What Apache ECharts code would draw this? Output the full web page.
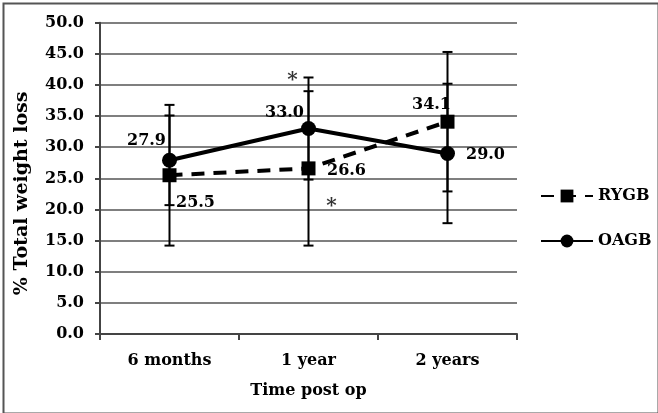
<!DOCTYPE html>
<html>
<head>
<meta charset="utf-8">
<script src="https://cdn.jsdelivr.net/npm/echarts@6/dist/echarts.min.js"></script>
<style>
  html, body { margin: 0; padding: 0; background: #fff; }
  #chart { width: 658px; height: 413px; }
</style>
</head>
<body>
<div id="chart"></div>
<script>
// 数据
const categories = ['6 months', '1 year', '2 years']
const rygb = [25.5, 26.6, 34.1]
const oagb = [27.9, 33.0, 29.0]
const rygbSd = [11.3, 12.4, 11.2]
const oagbSd = [7.2, 8.2, 11.2]
// 显著性标记 (category, y)
const notes = [['1 year', 41.2], ['1 year', 20.9]]

const FONT = '"DejaVu Serif", "Liberation Serif", serif'
const INK = '#000'

function errData(vals, sds) {
  return vals.map((v, i) => [i, v - sds[i], v + sds[i]])
}

function renderErr(params, api) {
  const x = api.value(0)
  const lo = api.coord([x, api.value(1)])
  const hi = api.coord([x, api.value(2)])
  const w = 5
  const style = { stroke: INK, lineWidth: 2 }
  return {
    type: 'group',
    children: [
      { type: 'line', shape: { x1: lo[0], y1: lo[1], x2: hi[0], y2: hi[1] }, style },
      { type: 'line', shape: { x1: lo[0] - w, y1: lo[1], x2: lo[0] + w, y2: lo[1] }, style },
      { type: 'line', shape: { x1: hi[0] - w, y1: hi[1], x2: hi[0] + w, y2: hi[1] }, style },
    ],
  }
}

const labelText = { fontFamily: FONT, fontWeight: 'bold', fontSize: 16, color: INK }

// 各点标签偏移
const rygbOffsets = [[26, 28], [38, 2], [-16, -17]]
const oagbOffsets = [[-23, -19], [-24, -16], [38, 1]]

function withLabels(vals, offsets) {
  return vals.map((v, i) => ({
    value: v,
    label: { show: true, position: 'inside', offset: offsets[i], formatter: v.toFixed(1), ...labelText },
  }))
}

const chart = echarts.init(document.getElementById('chart'), null, { renderer: 'canvas' })
chart.setOption({
  animation: false,
  backgroundColor: '#fff',
  grid: { left: 100, right: 141, top: 22.7, bottom: 79, containLabel: false },
  graphic: [{
    type: 'rect', left: 1, top: 1, z: 100,
    shape: { width: 655, height: 410 },
    style: { fill: 'none', stroke: '#555', lineWidth: 2 },
  }],
  legend: {
    orient: 'vertical', left: 535, top: 183,
    itemWidth: 52, itemHeight: 16, itemGap: 29,
    data: ['RYGB', 'OAGB'],
    textStyle: { ...labelText },
  },
  xAxis: {
    type: 'category', data: categories, boundaryGap: true,
    name: 'Time post op', nameLocation: 'middle', nameGap: 49,
    nameTextStyle: { ...labelText, fontSize: 16 },
    axisLine: { lineStyle: { color: '#444', width: 2 } },
    axisTick: { show: true, length: 6, lineStyle: { color: '#444', width: 2 } },
    axisLabel: { ...labelText, margin: 19 },
  },
  yAxis: {
    type: 'value', min: 0, max: 50, interval: 5,
    name: '% Total weight loss', nameLocation: 'middle', nameGap: 68,
    nameTextStyle: { ...labelText, fontSize: 19, padding: [0, 30, 0, 0] },
    axisLine: { show: true, lineStyle: { color: '#444', width: 2 } },
    axisTick: { show: true, length: 5, lineStyle: { color: '#444', width: 2 } },
    splitLine: { lineStyle: { color: '#555', width: 1.5 } },
    axisLabel: { ...labelText, margin: 16, formatter: v => v.toFixed(1) },
  },
  series: [
    {
      name: 'RYGB err', type: 'custom', renderItem: renderErr,
      data: errData(rygb, rygbSd), z: 3, silent: true,
    },
    {
      name: 'OAGB err', type: 'custom', renderItem: renderErr,
      data: errData(oagb, oagbSd), z: 3, silent: true,
    },
    {
      name: 'RYGB', type: 'line', data: withLabels(rygb, rygbOffsets),
      symbol: 'rect', symbolSize: 14, z: 4,
      itemStyle: { color: INK },
      lineStyle: { color: INK, width: 4, type: [13, 9] },
    },
    {
      name: 'OAGB', type: 'line', data: withLabels(oagb, oagbOffsets),
      symbol: 'circle', symbolSize: 15, z: 5,
      itemStyle: { color: INK },
      lineStyle: { color: INK, width: 4 },
    },
    {
      name: 'notes', type: 'scatter', data: notes, symbolSize: 0, z: 6,
      label: {
        show: true, formatter: '*', position: 'inside', ...labelText, fontSize: 20,
      },
      labelLayout: (p) => ({ dx: p.dataIndex === 0 ? -16 : 23, dy: 3 }),
    },
  ],
})
</script>
</body>
</html>
